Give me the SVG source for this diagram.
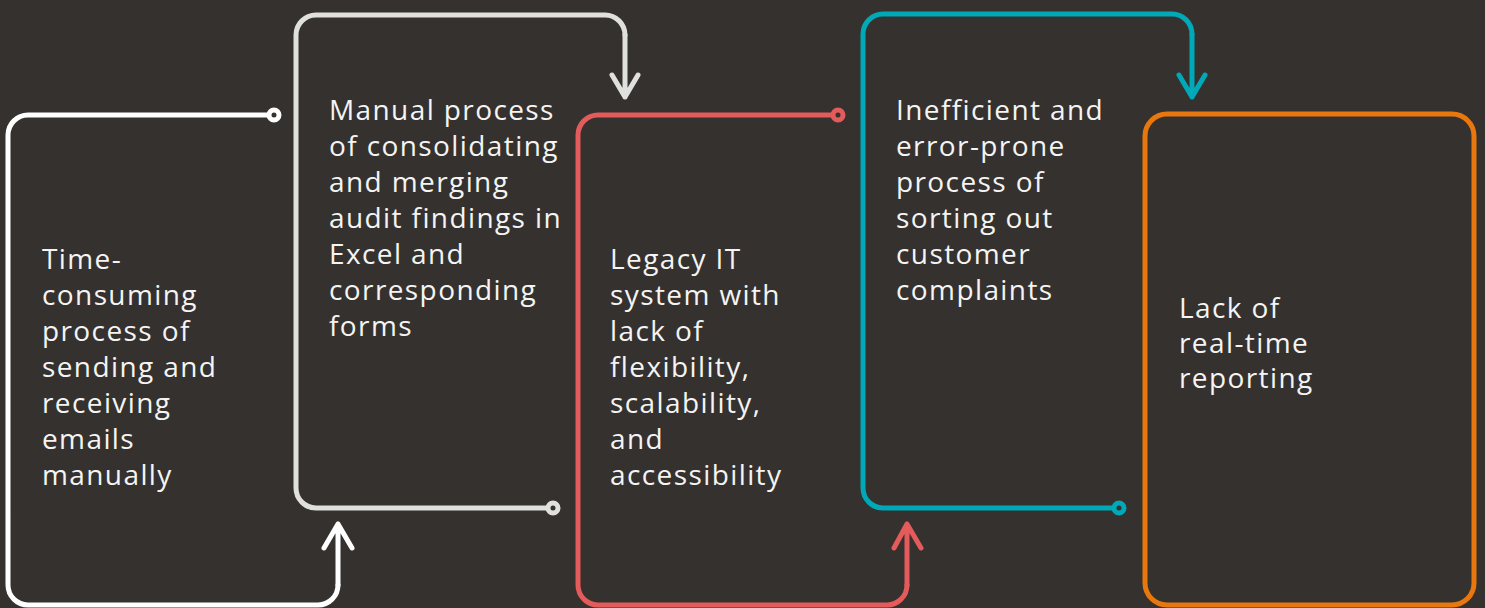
<svg xmlns="http://www.w3.org/2000/svg" width="1485" height="608" viewBox="0 0 1485 608">
<style>
.ln{fill:none;stroke-width:5;stroke-linecap:round;stroke-linejoin:round}
.dot{stroke-width:5;fill:#35312e}
.t{font-family:"Open Sans","DejaVu Sans",sans-serif;font-size:28px;fill:#f4f4f4;letter-spacing:1.4px}
.w{stroke:#ffffff}.g{stroke:#e0e0df}.r{stroke:#e35b5b}.c{stroke:#00a9b7}.o{stroke:#e8780d}
</style>
<rect width="1485" height="608" fill="#35312e"/>
<g id="node1">
<path class="ln w" d="M274,115 H28 A20,20 0 0 0 8,135 V585 A20,20 0 0 0 28,605 H318 A20,20 0 0 0 338,585"/>
<circle class="dot w" cx="274" cy="115" r="5"/>
<text class="t"><tspan x="42" y="269">Time-</tspan><tspan x="42" y="305">consuming</tspan><tspan x="42" y="341">process of</tspan><tspan x="42" y="377">sending and</tspan><tspan x="42" y="413">receiving</tspan><tspan x="42" y="449">emails</tspan><tspan x="42" y="485">manually</tspan></text>
</g>
<g id="node2">
<path class="ln g" d="M553,508 H316 A20,20 0 0 1 296,488 V35 A20,20 0 0 1 316,15 H605 A20,20 0 0 1 625,35"/>
<circle class="dot g" cx="553" cy="508" r="5"/>
<text class="t"><tspan x="329" y="120">Manual process</tspan><tspan x="329" y="156">of consolidating</tspan><tspan x="329" y="192">and merging</tspan><tspan x="329" y="228">audit findings in</tspan><tspan x="329" y="264">Excel and</tspan><tspan x="329" y="300">corresponding</tspan><tspan x="329" y="336">forms</tspan></text>
</g>
<g id="node3">
<path class="ln r" d="M838,115 H598 A20,20 0 0 0 578,135 V585 A20,20 0 0 0 598,605 H887 A20,20 0 0 0 907,585"/>
<circle class="dot r" cx="838" cy="115" r="5"/>
<text class="t"><tspan x="610" y="269">Legacy IT</tspan><tspan x="610" y="305">system with</tspan><tspan x="610" y="341">lack of</tspan><tspan x="610" y="377">flexibility,</tspan><tspan x="610" y="413">scalability,</tspan><tspan x="610" y="449">and</tspan><tspan x="610" y="485">accessibility</tspan></text>
</g>
<g id="node4">
<path class="ln c" d="M1119,508 H883 A20,20 0 0 1 863,488 V34 A20,20 0 0 1 883,14 H1172 A20,20 0 0 1 1192,34"/>
<circle class="dot c" cx="1119" cy="508" r="5"/>
<text class="t"><tspan x="896" y="120">Inefficient and</tspan><tspan x="896" y="156">error-prone</tspan><tspan x="896" y="192">process of</tspan><tspan x="896" y="228">sorting out</tspan><tspan x="896" y="264">customer</tspan><tspan x="896" y="300">complaints</tspan></text>
</g>
<g id="node5">
<rect class="ln o" x="1145" y="114" width="329" height="491" rx="22"/>
<text class="t"><tspan x="1179" y="318">Lack of</tspan><tspan x="1179" y="353">real-time</tspan><tspan x="1179" y="388">reporting</tspan></text>
</g>
<g id="connectors">
<path class="ln w" d="M338,585 V524 M324,548 L338,524 L352,548"/>
<path class="ln g" d="M625,35 V97 M612,75 L625,97 L638,75"/>
<path class="ln r" d="M907,585 V524 M894,548 L907,524 L921,548"/>
<path class="ln c" d="M1192,34 V97 M1179,75 L1192,97 L1205,75"/>
</g>
</svg>
